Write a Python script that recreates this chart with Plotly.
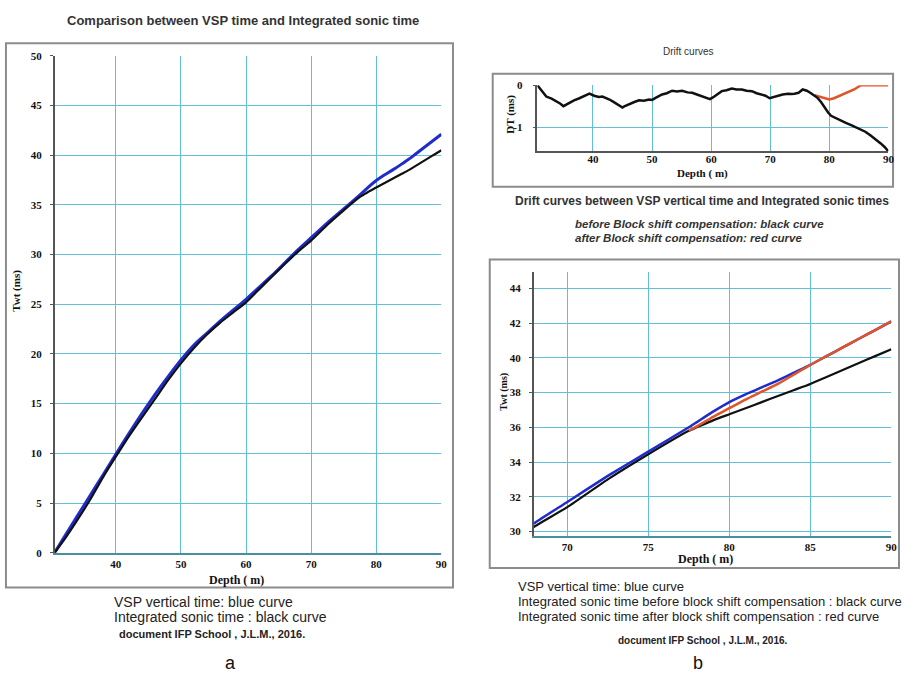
import plotly.graph_objects as go

W, H = 907, 681

# ---------------- data ----------------
depth_twt = [30.6, 32, 34, 36, 38, 40, 42, 44, 46, 48, 50, 52, 54, 56, 58, 60, 62, 64, 66, 68,
             70, 72.5, 75, 77.5, 78, 79, 80, 81, 82, 83, 84, 85, 86, 87, 88, 89, 90]
vsp_time = [0.0, 1.5, 3.6, 5.7, 7.8, 9.9, 12.0, 14.0, 15.9, 17.7, 19.4, 20.9, 22.1, 23.3, 24.4,
            25.5, 26.7, 27.9, 29.2, 30.5, 31.7, 33.2, 34.6, 36.0, 36.3, 36.9, 37.45, 37.9,
            38.3, 38.7, 39.15, 39.6, 40.1, 40.6, 41.1, 41.6, 42.1]
sonic_time = [0.0, 1.24, 3.2, 5.28, 7.56, 9.66, 11.71, 13.6, 15.45, 17.33, 19.05, 20.6, 21.95,
              23.13, 24.16, 25.19, 26.5, 27.8, 29.07, 30.3, 31.4, 33.0, 34.45, 35.8, 36.0,
              36.4, 36.75, 37.1, 37.45, 37.8, 38.15, 38.5, 38.9, 39.3, 39.7, 40.1, 40.5]

depth_red = [77.5, 78, 79, 80, 81, 82, 83, 84, 85, 86, 87, 88, 89, 90]
sonic_shift_time = [35.8, 36.05, 36.6, 37.1, 37.6, 38.05, 38.5, 39.05, 39.6, 40.1, 40.6,
                    41.1, 41.6, 42.1]

drift_depth = [30.6, 31.2, 32.1, 33.0, 33.8, 34.5, 35.0, 35.6, 36.0, 36.8, 37.7, 38.5, 39.4,
               40.2, 41.0, 41.6, 42.2, 42.8, 43.4, 43.9, 44.5, 45.0, 45.5, 46.1, 47.0, 47.8,
               48.6, 49.5, 50.0, 50.6, 51.2, 51.7, 52.5, 53.4, 54.2, 55.1, 56.0, 56.8, 57.6,
               58.4, 59.1, 59.8, 60.3, 60.7, 61.2, 61.8, 62.6, 63.5, 64.3, 65.2, 66.0, 66.9,
               67.7, 68.5, 69.2, 69.9, 70.6, 71.3, 72.1, 73.0, 73.6, 74.1, 74.8, 75.5, 76.2,
               76.9, 77.5, 78.0, 78.6, 79.2, 79.8, 80.3, 81.1, 82.0, 82.8, 83.7, 84.5, 85.3,
               86.1, 87.0, 87.8, 88.7, 89.4, 90.0]
drift_black = [0.0, -0.12, -0.27, -0.32, -0.38, -0.44, -0.50, -0.45, -0.42, -0.36, -0.31,
               -0.26, -0.20, -0.25, -0.28, -0.27, -0.30, -0.34, -0.39, -0.44, -0.48, -0.53,
               -0.49, -0.45, -0.40, -0.36, -0.37, -0.34, -0.35, -0.30, -0.26, -0.22, -0.19,
               -0.13, -0.15, -0.13, -0.17, -0.18, -0.22, -0.26, -0.28, -0.33, -0.29, -0.25,
               -0.19, -0.14, -0.12, -0.08, -0.10, -0.10, -0.13, -0.14, -0.19, -0.22, -0.25,
               -0.31, -0.28, -0.25, -0.22, -0.20, -0.21, -0.20, -0.18, -0.10, -0.13, -0.19,
               -0.24, -0.30, -0.40, -0.53, -0.65, -0.73, -0.79, -0.85, -0.90, -0.95, -1.00,
               -1.05, -1.11, -1.20, -1.28, -1.39, -1.48, -1.58]
drift_red_depth = [77.5, 78.0, 78.6, 79.2, 80.0, 80.8, 81.6, 82.5, 83.3, 84.2, 85.0, 85.3,
                   86.0, 87.0, 88.0, 89.0, 90.0]
drift_red = [-0.24, -0.26, -0.27, -0.30, -0.34, -0.31, -0.26, -0.22, -0.16, -0.10, -0.03,
             0.0, 0.0, 0.0, 0.0, 0.0, 0.0]

left_xticks = [40, 50, 60, 70, 80, 90]
left_yticks = [0, 5, 10, 15, 20, 25, 30, 35, 40, 45, 50]
drift_yticks = [0, -1]
drift_yticklabels = ["0", "-1"]
zoom_xticks = [70, 75, 80, 85, 90]
zoom_yticks = [30, 32, 34, 36, 38, 40, 42, 44]

# ---------------- styling ----------------
BLUE = "#1f2ccc"
BLACK = "#111111"
RED = "#df5528"
GRID = "#62c0d6"
SANS = "Liberation Sans, Arial, sans-serif"
SERIF = "Liberation Serif, Times New Roman, serif"


def X(px):
    return px / W


def Y(py):
    return 1 - py / H


fig = go.Figure()

# left chart
fig.add_trace(go.Scatter(x=depth_twt, y=vsp_time, mode="lines",
                         line=dict(color=BLUE, width=3, shape="spline", smoothing=0.5),
                         xaxis="x", yaxis="y", showlegend=False))
fig.add_trace(go.Scatter(x=depth_twt, y=sonic_time, mode="lines",
                         line=dict(color=BLACK, width=2.2, shape="spline", smoothing=0.5),
                         xaxis="x", yaxis="y", showlegend=False))

# drift chart
fig.add_trace(go.Scatter(x=drift_red_depth, y=drift_red, mode="lines", line=dict(color=RED, width=2.5),
                         xaxis="x2", yaxis="y2", showlegend=False))
fig.add_trace(go.Scatter(x=drift_depth, y=drift_black, mode="lines", line=dict(color=BLACK, width=2.5),
                         xaxis="x2", yaxis="y2", showlegend=False))

# zoomed chart
fig.add_trace(go.Scatter(x=depth_twt, y=sonic_time, mode="lines",
                         line=dict(color=BLACK, width=2.2, shape="spline", smoothing=0.5),
                         xaxis="x3", yaxis="y3", showlegend=False))
fig.add_trace(go.Scatter(x=depth_twt, y=vsp_time, mode="lines",
                         line=dict(color=BLUE, width=2.5, shape="spline", smoothing=0.5),
                         xaxis="x3", yaxis="y3", showlegend=False))
fig.add_trace(go.Scatter(x=depth_red, y=sonic_shift_time, mode="lines",
                         line=dict(color=RED, width=2.5, shape="spline", smoothing=0.5),
                         xaxis="x3", yaxis="y3", showlegend=False))

tickfont = dict(family=SERIF, size=11, color="#111", weight="bold")

common_x = dict(showgrid=True, gridcolor=GRID, gridwidth=1.2, zeroline=False, showline=True,
                linecolor="#4a8fa0", linewidth=1.5, tickfont=tickfont, ticks="", fixedrange=True)
common_y = dict(showgrid=True, gridcolor=GRID, gridwidth=1.2, zeroline=False, showline=True,
                linecolor="#555555", linewidth=1.5, tickfont=tickfont, ticks="outside",
                ticklen=3, tickcolor="#555555", fixedrange=True)

fig.update_layout(
    width=W, height=H, autosize=False,
    margin=dict(l=0, r=0, t=0, b=0),
    paper_bgcolor="white", plot_bgcolor="white",
    xaxis=dict(common_x, domain=[X(55), X(444.3)], range=[30.6, 90], tickvals=left_xticks,
               anchor="y"),
    yaxis=dict(common_y, domain=[Y(556.5), Y(50.7)], range=[0, 50], tickvals=left_yticks,
               anchor="x", ticklabelstandoff=6),
    xaxis2=dict(common_x, domain=[X(541), X(894.3)], range=[30.6, 90], tickvals=left_xticks,
                anchor="y2", linecolor="#555555", ticklabelstandoff=-3),
    yaxis2=dict(common_y, domain=[Y(148), Y(80.7)], range=[-1.58, 0], tickvals=drift_yticks,
                ticktext=drift_yticklabels, anchor="x2", ticklabelstandoff=8),
    xaxis3=dict(common_x, domain=[X(537.3), X(897.3)], range=[67.93, 90], tickvals=zoom_xticks,
                anchor="y3"),
    yaxis3=dict(common_y, domain=[Y(539.3), Y(270.7)], range=[29.75, 44.95], tickvals=zoom_yticks,
                anchor="x3", ticklabelstandoff=6),
)

# frames around the panels
for (x0, y0, x1, y1) in [(6, 38, 456, 592), (496, 69, 899, 184), (493, 258, 905, 572)]:
    fig.add_shape(type="rect", xref="paper", yref="paper", x0=X(x0), x1=X(x1), y0=Y(y1), y1=Y(y0),
                  line=dict(color="#8c8c8c", width=2), fillcolor="rgba(0,0,0,0)", layer="below")


def text(s, x, y, size=11, family=SANS, color="#222", xanchor="center", angle=0, **kw):
    fig.add_annotation(text=s, x=X(x), y=Y(y), xref="paper", yref="paper", showarrow=False,
                       xanchor=xanchor, yanchor="middle", textangle=angle,
                       font=dict(family=family, size=size, color=color, **kw))


# titles
text("Comparison between VSP time and Integrated sonic time", 245, 15, size=13, weight="bold",
     color="#333")
text("Drift curves", 693, 46, size=10, color="#333")
text("Drift curves between VSP vertical time and Integrated sonic times", 707, 198, size=12,
     weight="bold", color="#333")
text("before Block shift compensation: black curve", 577, 222, size=11.5, xanchor="left",
     style="italic", weight="bold", color="#333")
text("after Block shift compensation: red curve", 577, 236, size=11.5, xanchor="left",
     style="italic", weight="bold", color="#333")

# axis titles
text("Depth ( m)", 238, 584, size=12, family=SERIF, weight="bold", color="#111")
text("Twt (ms)", 17, 290, size=11, family=SERIF, weight="bold", color="#111", angle=-90)
text("Depth ( m)", 707, 171, size=11, family=SERIF, weight="bold", color="#111")
text("DT (ms)", 513, 110, size=11, family=SERIF, weight="bold", color="#111", angle=-90)
text("Depth ( m)", 710, 563, size=12, family=SERIF, weight="bold", color="#111")
text("Twt (ms)", 507, 393, size=10, family=SERIF, weight="bold", color="#111", angle=-90)

# captions
text("VSP vertical time: blue curve", 113, 607, size=14, xanchor="left", color="#222")
text("Integrated sonic time : black curve", 113, 622, size=14, xanchor="left", color="#222")
text("document IFP School , J.L.M., 2016.", 118, 639, size=11, xanchor="left", weight="bold",
     color="#222")
text("VSP vertical time: blue curve", 519, 591, size=13, xanchor="left", color="#222")
text("Integrated sonic time before block shift compensation : black curve", 519, 606, size=13,
     xanchor="left", color="#222")
text("Integrated sonic time after block shift compensation : red curve", 519, 621, size=13,
     xanchor="left", color="#222")
text("document IFP School , J.L.M., 2016.", 708, 646, size=10, weight="bold", color="#222")
text("a", 232, 669, size=18, color="#111")
text("b", 703, 669, size=18, color="#111")

fig.write_html(
    "out.html",
    config={"displayModeBar": False},
    post_script="document.body.style.margin='0';document.body.style.overflow='hidden';"
                "document.documentElement.style.overflow='hidden';",
)
